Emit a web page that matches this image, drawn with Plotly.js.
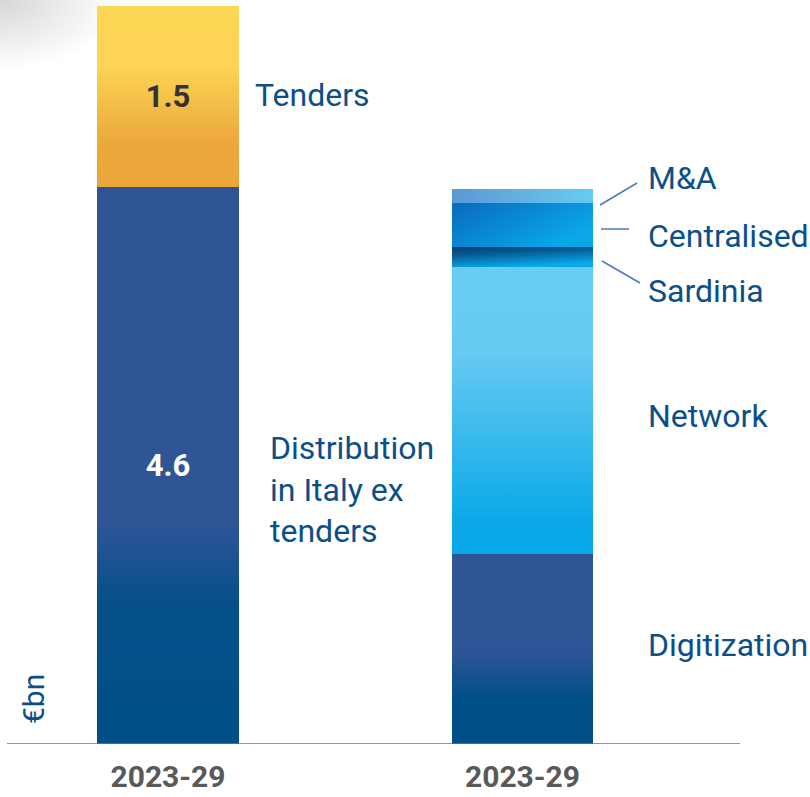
<!DOCTYPE html>
<html>
<head>
<meta charset="utf-8">
<script src="https://cdn.plot.ly/plotly-3.0.1.min.js"></script>
<style>html,body{margin:0;padding:0;background:#fff;}#chart{width:810px;height:797px;}</style>
</head>
<body>
<div id="chart"></div>
<script>
// ---- data ----
var periodLabels = ["2023-29", "2023-29"];
var barPositions = [0, 1];
var distributionItaly = [4.6];   // left bar, bottom
var tenders = [1.5];             // left bar, top
var digitization = [1.57];       // right bar segments bottom -> top
var network = [2.37];
var sardinia = [0.17];
var centralised = [0.36];
var mna = [0.12];
var unitLabel = "€bn";

var W = 810, PH = 744;
function px(x){ return x / W; }
function py(y){ return 1 - y / PH; }

var BW = 0.398;
var textCol = "#0b4f8a";

function barTrace(name, x, y, color, showText, textColor){
  return {
    type: "bar", name: name, x: x, y: y, width: BW,
    marker: {color: color, line: {width: 0}},
    text: showText ? y.map(function(v){return v.toFixed(1);}) : null,
    textposition: showText ? "inside" : "none",
    insidetextanchor: "middle",
    textfont: {family: "Roboto", size: 31, color: textColor, weight: 700},
    hoverinfo: "none", showlegend: false, cliponaxis: false
  };
}

var traces = [
  barTrace("Distribution in Italy ex tenders", [barPositions[0]], distributionItaly, "#2f5597", true, "#ffffff"),
  barTrace("Tenders", [barPositions[0]], tenders, "#f6c34a", true, "#333333"),
  barTrace("Digitization", [barPositions[1]], digitization, "#2f5597", false),
  barTrace("Network", [barPositions[1]], network, "#3cbcee", false),
  barTrace("Sardinia", [barPositions[1]], sardinia, "#0670b0", false),
  barTrace("Centralised", [barPositions[1]], centralised, "#0a8ad5", false),
  barTrace("M&A", [barPositions[1]], mna, "#60b2e3", false)
];

function ann(text, x, y, opts){
  var a = {text: text, xref: "paper", yref: "paper", x: px(x - 3), y: py(y),
    xanchor: "left", yanchor: "middle", showarrow: false, align: "left",
    font: {family: "Roboto", size: 32, color: textCol}};
  for (var k in (opts||{})) a[k] = opts[k];
  return a;
}

var annotations = [
  ann("Tenders", 256, 95),
  ann("Distribution<br>in Italy ex<br>tenders", 271, 489),
  ann("M&A", 649, 178),
  ann("Centralised", 649, 236),
  ann("Sardinia", 649, 291),
  ann("Network", 649, 416),
  ann("Digitization", 649, 645),
  ann(unitLabel, 33, 699, {x: px(33), textangle: -90, xanchor: "center", font: {family: "Roboto", size: 30, color: textCol}})
];

function seg(x0,y0,x1,y1){
  return {type: "line", xref: "paper", yref: "paper", x0: px(x0), y0: py(y0), x1: px(x1), y1: py(y1),
    line: {color: "#4a78c8", width: 1.5}};
}
var shapes = [
  {type: "line", xref: "paper", yref: "y", x0: px(7), x1: px(740), y0: 0, y1: 0, line: {color: "#4a78c8", width: 1.5}},
  seg(600, 205, 637, 183),
  seg(601, 229, 629, 229),
  seg(602, 261, 640, 283)
];

var x0 = -168 / 354.5, x1 = (810 - 168) / 354.5;
var layout = {
  width: 810, height: 797,
  margin: {l: 0, r: 0, t: 0, b: 53},
  paper_bgcolor: "#ffffff", plot_bgcolor: "rgba(0,0,0,0)",
  barmode: "stack",
  xaxis: {range: [x0, x1], tickvals: barPositions, ticktext: periodLabels,
    showgrid: false, zeroline: false, showline: false, ticks: "", fixedrange: true,
    tickfont: {family: "Roboto", size: 30, color: "#595959", weight: 700}, ticklabelstandoff: 12},
  yaxis: {range: [0, 744 / 121], visible: false, showgrid: false, zeroline: false, fixedrange: true},
  annotations: annotations, shapes: shapes
};

var gradients = [
  {id: "gDist", x2: 0, y2: 1, stops: [[0, "#2f5597"], [0.6, "#2f5597"], [0.74, "#07508a"], [1, "#004f87"]]},
  {id: "gTend", x2: 0, y2: 1, stops: [[0, "#fdd656"], [0.33, "#fdd455"], [0.75, "#eca83b"], [1, "#eba63a"]]},
  {id: "gDig", x2: 0, y2: 1, stops: [[0, "#2f5597"], [0.5, "#2f5597"], [0.77, "#004f87"], [1, "#004f87"]]},
  {id: "gNet", x2: 0, y2: 1, stops: [[0, "#68ccf3"], [0.3, "#66caf2"], [0.9, "#09a8e8"], [1, "#08a8e8"]]},
  {id: "gSar", x2: 0.35, y2: 1, stops: [[0, "#053f6c"], [0.35, "#05578f"], [1, "#0aa9e9"]]},
  {id: "gCen", x2: 1, y2: 0.6, stops: [[0, "#0a6abc"], [1, "#09a9e9"]]},
  {id: "gMA", x2: 1, y2: 0, stops: [[0, "#5b99d5"], [1, "#68caf1"]]}
];

Plotly.newPlot("chart", traces, layout, {staticPlot: true, displayModeBar: false}).then(function(gd){
  var NS = "http://www.w3.org/2000/svg";
  var svg = gd.querySelector("svg.main-svg");
  var defs = svg.querySelector("defs") || svg.insertBefore(document.createElementNS(NS, "defs"), svg.firstChild);
  gradients.forEach(function(g){
    var lg = document.createElementNS(NS, "linearGradient");
    lg.setAttribute("id", g.id);
    lg.setAttribute("x1", 0); lg.setAttribute("y1", 0);
    lg.setAttribute("x2", g.x2); lg.setAttribute("y2", g.y2);
    g.stops.forEach(function(s){
      var st = document.createElementNS(NS, "stop");
      st.setAttribute("offset", s[0]); st.setAttribute("stop-color", s[1]);
      lg.appendChild(st);
    });
    defs.appendChild(lg);
  });
  // corner shadow
  var rg = document.createElementNS(NS, "radialGradient");
  rg.setAttribute("id", "gShadow"); rg.setAttribute("cx", 0); rg.setAttribute("cy", 0); rg.setAttribute("r", 1);
  [[0, "rgba(0,0,0,0.16)"], [1, "rgba(0,0,0,0)"]].forEach(function(s){
    var st = document.createElementNS(NS, "stop");
    st.setAttribute("offset", s[0]); st.setAttribute("stop-color", s[1]);
    rg.appendChild(st);
  });
  defs.appendChild(rg);
  var bg = svg.querySelector("rect.bg");
  var sh = document.createElementNS(NS, "rect");
  sh.setAttribute("x", 0); sh.setAttribute("y", 0); sh.setAttribute("width", 120); sh.setAttribute("height", 70);
  sh.setAttribute("fill", "url(#gShadow)");
  if (bg && bg.parentNode) bg.parentNode.insertBefore(sh, bg.nextSibling);

  var groups = gd.querySelectorAll("g.trace.bars");
  groups.forEach(function(grp, i){
    var p = grp.querySelector("path");
    if (p && gradients[i]) p.style.fill = "url(#" + gradients[i].id + ")";
  });
});
</script>
</body>
</html>
